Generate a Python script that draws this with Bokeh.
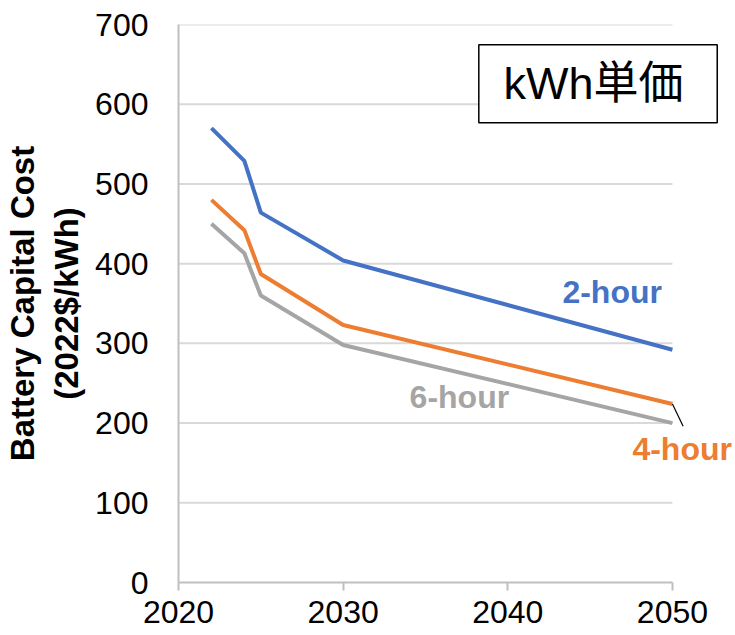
from bokeh.plotting import figure
from bokeh.models import Label, FixedTicker, Range1d
from bokeh.embed import file_html
from bokeh.resources import INLINE

# Battery capital cost projections (2022$/kWh)
years = [2022, 2024, 2025, 2030, 2050]
cost_2h = [570, 529, 464, 404, 292]
cost_4h = [480, 442, 387, 323, 224]
cost_6h = [450, 413, 360, 298, 200]
x_ticks = [2020, 2030, 2040, 2050]
y_ticks = [0, 100, 200, 300, 400, 500, 600, 700]

BLUE = "#4472C4"
ORANGE = "#ED7D31"
GRAY = "#A5A5A5"
GRID = "#D9D9D9"
AXIS = "#BFBFBF"
FONT = "Liberation Sans"

# the frame runs past 2050 so the right-hand labels have room
p = figure(
    frame_width=557, frame_height=558,
    min_border_left=178, min_border_right=0,
    min_border_top=24, min_border_bottom=53,
    x_range=Range1d(2020, 2053.83), y_range=Range1d(0, 700),
    output_backend="svg", toolbar_location=None,
)
p.outline_line_color = None
p.background_fill_color = "white"
p.border_fill_color = "white"

# horizontal gridlines, 2020-2050 only
grid_y = y_ticks[1:]
p.segment(x0=[x_ticks[0]] * len(grid_y), x1=[x_ticks[-1]] * len(grid_y),
          y0=grid_y, y1=grid_y, line_color=GRID, line_width=2)
p.xgrid.grid_line_color = None
p.ygrid.grid_line_color = None

p.line(years, cost_2h, line_color=BLUE, line_width=4)
p.line(years, cost_4h, line_color=ORANGE, line_width=4)
p.line(years, cost_6h, line_color=GRAY, line_width=4)

# axes
p.xaxis.ticker = FixedTicker(ticks=x_ticks)
p.xaxis.bounds = (x_ticks[0], x_ticks[-1])
p.yaxis.ticker = FixedTicker(ticks=y_ticks)
for ax in (p.xaxis[0], p.yaxis[0]):
    ax.axis_line_color = AXIS
    ax.axis_line_width = 2
    ax.major_label_text_font = FONT
    ax.major_label_text_font_size = "32px"
    ax.major_label_text_color = "black"
    ax.minor_tick_line_color = None
p.xaxis.major_tick_line_color = AXIS
p.xaxis.major_tick_line_width = 2
p.xaxis.major_tick_in = 0
p.xaxis.major_tick_out = 8
p.xaxis.major_label_standoff = 10
p.yaxis.major_tick_line_color = None
p.yaxis.major_label_standoff = 24

p.yaxis.axis_label = "Battery Capital Cost\n(2022$/kWh)"
p.yaxis.axis_label_text_font = FONT
p.yaxis.axis_label_text_font_style = "bold"
p.yaxis.axis_label_text_font_size = "33px"
p.yaxis.axis_label_text_color = "black"
p.yaxis.axis_label_standoff = 7

# series labels
def series_label(x, y, text, color):
    p.add_layout(Label(x=x, y=y, text=text, text_color=color,
                       text_font=FONT, text_font_style="bold",
                       text_font_size="32px", text_align="center",
                       text_baseline="middle"))

series_label(2046.34, 364, "2-hour", BLUE)
series_label(2037.06, 233, "6-hour", GRAY)
series_label(2050.59, 167, "4-hour", ORANGE)

# leader from the 4-hour line end to its label
p.segment(x0=[years[-1]], y0=[cost_4h[-1]], x1=[2050.65], y1=[196],
          line_color="black", line_width=1.2)

# boxed title
p.quad(left=[2038.24], right=[2052.72], bottom=[576.7], top=[674.6],
       fill_color="white", line_color="black", line_width=1.5)
p.add_layout(Label(x=2045.2, y=625.6, text="kWh単価", text_color="black",
                   text_font="Liberation Sans, Noto Sans CJK JP",
                   text_font_size="45px", text_align="center",
                   text_baseline="middle"))

open("out.html", "w").write(file_html(p, INLINE))
